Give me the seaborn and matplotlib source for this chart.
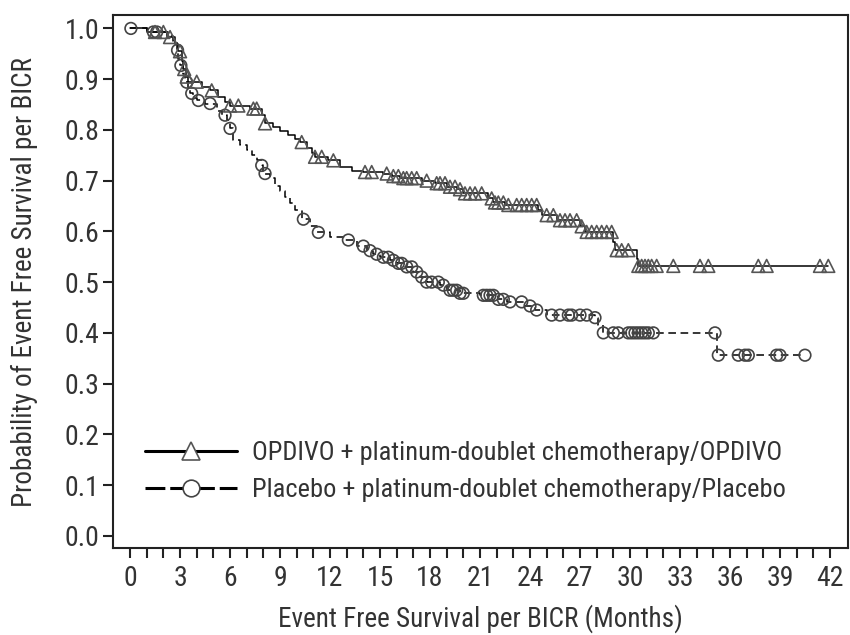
import numpy as np
import pandas as pd
import seaborn as sns
import matplotlib.pyplot as plt
from matplotlib.lines import Line2D

# step points of the KM curves (months, survival after the step)
opd_t = [0, 1.0, 2.2, 2.7, 2.9, 3.1, 3.2, 3.35, 3.5, 4.3, 4.8, 5.3, 5.7, 6.0, 7.2, 7.9, 8.1,
         8.6, 9.0, 9.5, 9.9, 10.2, 10.6, 10.9, 11.1, 11.9, 12.6, 13.3, 14.0, 15.2, 15.7, 16.2,
         17.5, 18.3, 19.0, 19.6, 20.0, 21.5, 21.8, 22.5, 24.5, 24.7, 25.6, 27.0, 27.3, 29.0,
         29.1, 30.4, 30.5]
opd_s = [1.0, 0.993, 0.983, 0.97, 0.955, 0.935, 0.92, 0.905, 0.895, 0.885, 0.878, 0.865, 0.855,
         0.848, 0.842, 0.83, 0.813, 0.805, 0.797, 0.79, 0.783, 0.776, 0.765, 0.755, 0.747, 0.74,
         0.727, 0.72, 0.717, 0.714, 0.709, 0.705, 0.70, 0.695, 0.688, 0.683, 0.675, 0.665, 0.657,
         0.652, 0.643, 0.632, 0.622, 0.61, 0.599, 0.58, 0.563, 0.545, 0.532]
opd_cens = [1.5, 2.0, 2.4, 3.0, 3.25, 3.4, 4.0, 4.9, 6.0, 6.5, 7.4, 7.6, 8.1, 10.3, 11.1, 11.5,
            12.2, 14.1, 14.5, 15.4, 15.8, 16.1, 16.4, 16.6, 16.9, 17.2, 17.8, 18.4, 18.6, 18.9,
            19.2, 19.5, 19.8, 20.1, 20.4, 20.7, 21.1, 21.7, 21.9, 22.1, 22.4, 22.7, 23.2, 23.5,
            23.8, 24.1, 24.4, 25.0, 25.4, 25.8, 26.1, 26.4, 26.8, 27.1, 27.4, 27.7, 28.0, 28.3,
            28.6, 28.9, 29.2, 29.5, 29.9, 30.5, 30.7, 30.9, 31.1, 31.3, 31.6, 32.6, 34.2, 34.7,
            37.7, 38.2, 41.4, 41.9]

pla_t = [0, 1.0, 2.3, 2.6, 2.8, 2.9, 3.0, 3.2, 3.3, 3.5, 3.6, 3.8, 4.0, 4.5, 5.2, 5.5, 5.8, 6.0,
         6.2, 6.6, 7.0, 7.3, 7.6, 7.9, 8.0, 8.4, 8.7, 9.0, 9.3, 9.6, 9.9, 10.3, 10.8, 11.2, 12.0,
         12.9, 13.6, 14.2, 14.6, 15.0, 15.6, 16.0, 16.5, 17.0, 17.4, 17.8, 18.6, 19.0, 19.8, 21.0,
         22.1, 22.6, 23.7, 24.3, 25.0, 27.9, 28.1, 28.4, 35.2]
pla_s = [1.0, 0.993, 0.985, 0.975, 0.957, 0.94, 0.927, 0.91, 0.894, 0.88, 0.872, 0.862, 0.858,
         0.852, 0.838, 0.829, 0.819, 0.803, 0.78, 0.77, 0.76, 0.75, 0.74, 0.73, 0.714, 0.705,
         0.69, 0.68, 0.668, 0.655, 0.642, 0.624, 0.61, 0.598, 0.589, 0.583, 0.571, 0.562, 0.555,
         0.549, 0.543, 0.537, 0.53, 0.52, 0.51, 0.50, 0.494, 0.484, 0.478, 0.474, 0.466, 0.461,
         0.453, 0.445, 0.435, 0.43, 0.415, 0.40, 0.356]
pla_cens = [0.05, 1.4, 1.6, 2.85, 3.05, 3.4, 3.7, 4.1, 4.8, 5.7, 6.0, 7.9, 8.1, 10.4, 11.3, 13.1,
            14.0, 14.4, 14.8, 15.2, 15.5, 15.8, 16.1, 16.3, 16.6, 16.9, 17.2, 17.5, 17.8, 18.1,
            18.5, 18.8, 19.2, 19.4, 19.6, 19.8, 20.0, 21.2, 21.4, 21.6, 21.8, 22.1, 22.4, 22.8,
            23.5, 24.0, 24.4, 25.3, 25.8, 26.3, 26.5, 27.0, 27.4, 27.9, 28.4, 29.0, 29.3, 29.9,
            30.1, 30.3, 30.5, 30.7, 30.9, 31.1, 31.4, 35.1, 35.3, 36.5, 36.9, 37.1, 38.8, 39.0,
            40.5]

labels = ["OPDIVO + platinum-doublet chemotherapy/OPDIVO",
          "Placebo + platinum-doublet chemotherapy/Placebo"]

sns.set_theme(style="ticks")
plt.rcParams['font.family'] = ['Roboto Condensed', 'Archivo Narrow', 'DejaVu Sans']
plt.rcParams['font.stretch'] = 'condensed'
txt = "#333333"


def curve(t, s, cens):
    # extend the last step out to the last follow-up
    tt = list(t) + [max(cens)]
    ss = list(s) + [s[-1]]
    idx = np.searchsorted(t, cens, side="right") - 1
    return pd.DataFrame({"t": tt, "s": ss}), pd.DataFrame({"t": cens, "s": np.array(s)[idx]})


fig = plt.figure(figsize=(8.5, 6.35), dpi=100)
ax = fig.add_axes([0.133, 0.137, 0.865, 0.839])

opd_line, opd_pts = curve(opd_t, opd_s, opd_cens)
pla_line, pla_pts = curve(pla_t, pla_s, pla_cens)

sns.lineplot(data=pla_line, x="t", y="s", ax=ax, estimator=None, sort=False,
             drawstyle="steps-post", color="black", lw=1.1, linestyle=(0, (5, 3)))
sns.lineplot(data=opd_line, x="t", y="s", ax=ax, estimator=None, sort=False,
             drawstyle="steps-post", color="black", lw=1.1)
sns.scatterplot(data=pla_pts, x="t", y="s", ax=ax, marker="o", s=70,
                facecolor="none", edgecolor="#444444", linewidth=1.2, zorder=3)
sns.scatterplot(data=opd_pts, x="t", y="s", ax=ax, marker="^", s=85,
                facecolor="none", edgecolor="#555555", linewidth=1.2, zorder=3)

ax.set_xlim(-1.02, 43.1)
ax.set_ylim(-0.024, 1.026)
ax.set_xticks(np.arange(0, 43, 3))
ax.set_xticks(np.arange(0, 43, 1), minor=True)
ax.set_yticks(np.arange(0, 1.01, 0.1))
ax.set_yticklabels([f"{v:.1f}" for v in np.arange(0, 1.01, 0.1)])
ax.tick_params(axis="both", which="both", length=7, width=1.5, color="#222222",
               labelsize=20, labelcolor=txt)
ax.tick_params(axis="x", which="major", pad=5)
ax.tick_params(axis="y", which="major", pad=3)
for sp in ax.spines.values():
    sp.set_linewidth(1.5)
    sp.set_color("#222222")
ax.set_xlabel("Event Free Survival per BICR (Months)", fontsize=19.5, color=txt, labelpad=9)
ax.set_ylabel("Probability of Event Free Survival per BICR", fontsize=19.5, color=txt,
              labelpad=19)

handles = [Line2D([], [], color="black", lw=2.2, marker="^", markersize=13,
                  markerfacecolor="white", markeredgecolor="#555555", markeredgewidth=1.2),
           Line2D([], [], color="black", lw=2.2, linestyle=(0, (6.5, 1.6)), marker="o",
                  markersize=12, markerfacecolor="white", markeredgecolor="#444444",
                  markeredgewidth=1.2)]
leg = ax.legend(handles, labels, loc="center left", bbox_to_anchor=(0.0435, 0.143),
                frameon=False, fontsize=19, handlelength=3.5, handletextpad=0.57,
                labelspacing=0.5, borderpad=0, borderaxespad=0, labelcolor=txt)

fig.savefig("out.png", dpi=100)
